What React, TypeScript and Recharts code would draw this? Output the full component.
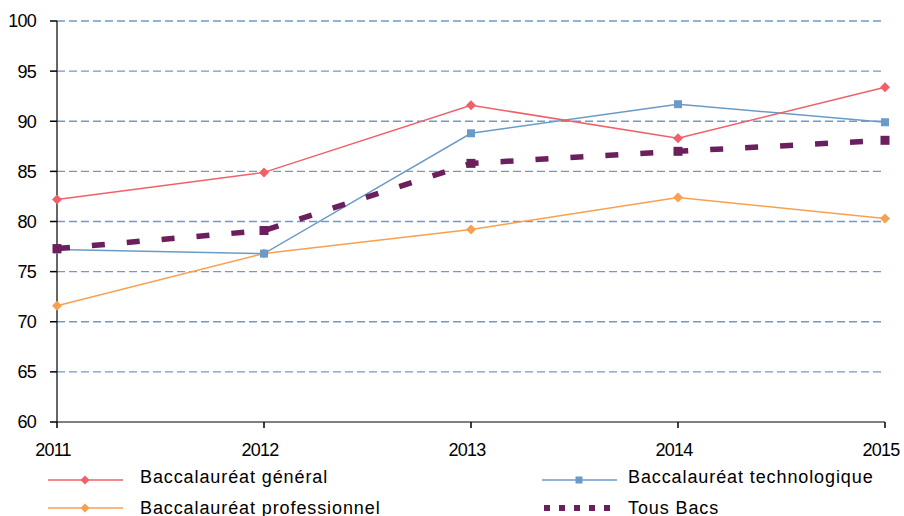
import React from "react";
import { LineChart, Line, XAxis, YAxis, CartesianGrid, Legend } from "recharts";

const years = [2011, 2012, 2013, 2014, 2015];
const general = [82.2, 84.9, 91.6, 88.3, 93.4];
const techno = [77.2, 76.8, 88.8, 91.7, 89.9];
const pro = [71.6, 76.8, 79.2, 82.4, 80.3];
const tous = [77.3, 79.1, 85.8, 87.0, 88.1];
const yTicks = [60, 65, 70, 75, 80, 85, 90, 95, 100];

const data = years.map((year, i) => ({
  year,
  general: general[i],
  techno: techno[i],
  pro: pro[i],
  tous: tous[i],
}));

const FONT = "'Liberation Sans', Arial, sans-serif";
const RED = "#f0606a";
const BLUE = "#6a9bc8";
const ORANGE = "#f8a050";
const PURPLE = "#6b1f5c";

const diamond = (color: string) => (props: any) => {
  const { cx, cy, index } = props;
  if (cx == null || cy == null) return <g key={index} />;
  return (
    <path key={index} d={`M${cx},${cy - 5} L${cx + 5},${cy} L${cx},${cy + 5} L${cx - 5},${cy} Z`} fill={color} />
  );
};

const square = (color: string, s: number) => (props: any) => {
  const { cx, cy, index } = props;
  if (cx == null || cy == null) return <g key={index} />;
  return <rect key={index} x={cx - s / 2} y={cy - s / 2} width={s} height={s} fill={color} />;
};

const legendItems = [
  { label: "Baccalauréat général", color: RED, kind: "diamond", x: 48, y: 480, gap: 17 },
  { label: "Baccalauréat technologique", color: BLUE, kind: "square", x: 542, y: 480, gap: 11 },
  { label: "Baccalauréat professionnel", color: ORANGE, kind: "diamond", x: 48, y: 508, gap: 17 },
  { label: "Tous Bacs", color: PURPLE, kind: "dash", x: 542, y: 508, gap: 11 },
];

const LegendContent = () => (
  <div style={{ position: "relative", width: 904, height: 60 }}>
    {legendItems.map((it) => (
      <div
        key={it.label}
        style={{ position: "absolute", left: it.x, top: it.y - 465 - 12, height: 24, display: "flex", alignItems: "center" }}
      >
        <svg width={75} height={14}>
          {it.kind === "dash" ? (
            <line x1={2} y1={7} x2={76} y2={7} stroke={it.color} strokeWidth={6} strokeDasharray="6 9" />
          ) : (
            <>
              <line x1={0} y1={7} x2={75} y2={7} stroke={it.color} strokeWidth={1.5} />
              {it.kind === "diamond" ? (
                <path d="M37,2.5 L41.5,7 L37,11.5 L32.5,7 Z" fill={it.color} />
              ) : (
                <rect x={33.5} y={3.5} width={7} height={7} fill={it.color} />
              )}
            </>
          )}
        </svg>
        <span
          style={{
            marginLeft: it.gap,
            marginTop: it.y === 480 ? -5 : 0,
            fontFamily: FONT,
            fontSize: 18,
            letterSpacing: 0.9,
            color: "#000",
            whiteSpace: "nowrap",
          }}
        >
          {it.label}
        </span>
      </div>
    ))}
  </div>
);

export default function App() {
  return (
    <div style={{ position: "absolute", left: 0, top: 0, width: 904, height: 516, background: "#fff" }}>
      <LineChart width={904} height={516} data={data} margin={{ top: 21, right: 19, bottom: 54, left: 0 }}>
        <CartesianGrid vertical={false} stroke="#6f9bcb" strokeDasharray="8 4" strokeWidth={1.3} />
        <XAxis
          dataKey="year"
          type="number"
          domain={[2011, 2015]}
          ticks={years}
          height={40}
          axisLine={{ stroke: "#808080", strokeWidth: 2 }}
          tickLine={{ stroke: "#000", strokeWidth: 1.5 }}
          tickSize={6}
          tickMargin={15}
          tick={{ fill: "#000", fontSize: 18, fontFamily: FONT, dx: -4, letterSpacing: -0.8 }}
        />
        <YAxis
          type="number"
          domain={[60, 100]}
          ticks={yTicks}
          width={57}
          axisLine={{ stroke: "#333", strokeWidth: 1.5 }}
          tickLine={{ stroke: "#000", strokeWidth: 1.5 }}
          tickSize={7}
          tickMargin={14}
          tick={{ fill: "#000", fontSize: 18, fontFamily: FONT, letterSpacing: -0.8 }}
          interval={0}
        />
        <Legend
          verticalAlign="middle"
          align="center"
          layout="horizontal"
          wrapperStyle={{ left: 0, top: 465, width: 904 }}
          content={() => <LegendContent />}
        />
        <Line dataKey="pro" stroke={ORANGE} strokeWidth={1.5} dot={diamond(ORANGE)} isAnimationActive={false} />
        <Line dataKey="techno" stroke={BLUE} strokeWidth={1.5} dot={square(BLUE, 8)} isAnimationActive={false} />
        <Line dataKey="general" stroke={RED} strokeWidth={1.5} dot={diamond(RED)} isAnimationActive={false} />
        <Line
          dataKey="tous"
          stroke={PURPLE}
          strokeWidth={5.5}
          strokeDasharray="13 22"
          dot={square(PURPLE, 9)}
          isAnimationActive={false}
        />
      </LineChart>
    </div>
  );
}
